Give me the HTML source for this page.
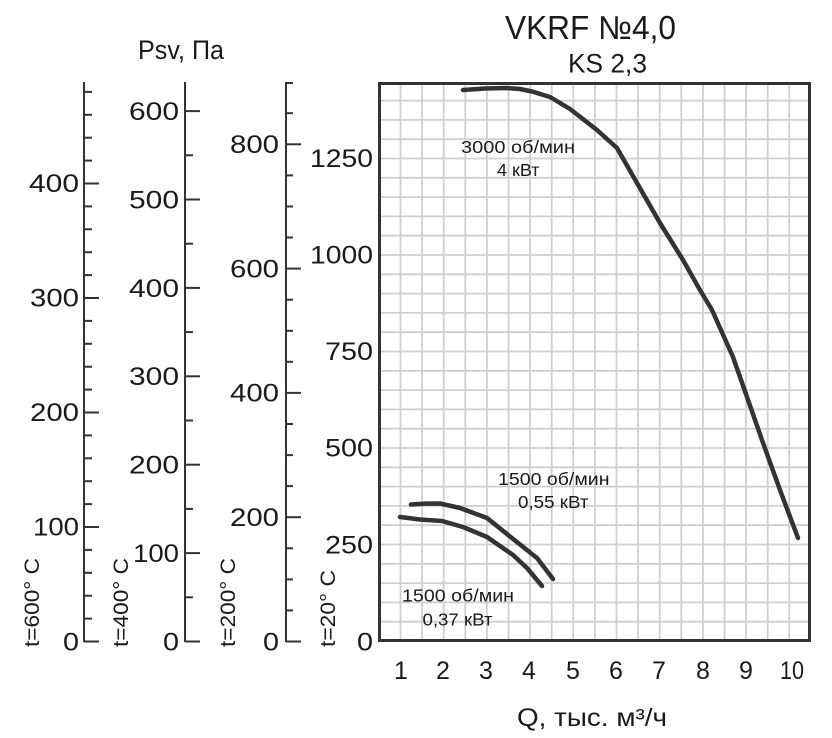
<!DOCTYPE html>
<html><head><meta charset="utf-8"><style>
html,body{margin:0;padding:0;background:#fff;}
svg{display:block;}
text{font-family:"Liberation Sans","DejaVu Sans",sans-serif;fill:#1a1a1a;}
</style></head><body>
<svg width="832" height="738" viewBox="0 0 832 738" xmlns="http://www.w3.org/2000/svg">
<!-- grid -->
<g stroke="#cfcfcf" stroke-width="1.8">
<line x1="400.5" y1="82" x2="400.5" y2="641"/><line x1="422.1" y1="82" x2="422.1" y2="641"/>
<line x1="443.7" y1="82" x2="443.7" y2="641"/><line x1="465.3" y1="82" x2="465.3" y2="641"/>
<line x1="486.9" y1="82" x2="486.9" y2="641"/><line x1="508.5" y1="82" x2="508.5" y2="641"/>
<line x1="530.1" y1="82" x2="530.1" y2="641"/><line x1="551.7" y1="82" x2="551.7" y2="641"/>
<line x1="573.3" y1="82" x2="573.3" y2="641"/><line x1="594.9" y1="82" x2="594.9" y2="641"/>
<line x1="616.5" y1="82" x2="616.5" y2="641"/><line x1="638.1" y1="82" x2="638.1" y2="641"/>
<line x1="659.7" y1="82" x2="659.7" y2="641"/><line x1="681.3" y1="82" x2="681.3" y2="641"/>
<line x1="702.9" y1="82" x2="702.9" y2="641"/><line x1="724.5" y1="82" x2="724.5" y2="641"/>
<line x1="746.1" y1="82" x2="746.1" y2="641"/><line x1="767.7" y1="82" x2="767.7" y2="641"/>
<line x1="789.3" y1="82" x2="789.3" y2="641"/>
</g>
<g stroke="#cfcfcf" stroke-width="1.8" id="hg"></g>
<g stroke="#cfcfcf" stroke-width="1.8">
<line x1="378" y1="621.7" x2="810" y2="621.7"/><line x1="378" y1="602.4" x2="810" y2="602.4"/>
<line x1="378" y1="583.1" x2="810" y2="583.1"/><line x1="378" y1="563.8" x2="810" y2="563.8"/>
<line x1="378" y1="544.5" x2="810" y2="544.5"/><line x1="378" y1="525.2" x2="810" y2="525.2"/>
<line x1="378" y1="505.9" x2="810" y2="505.9"/><line x1="378" y1="486.6" x2="810" y2="486.6"/>
<line x1="378" y1="467.3" x2="810" y2="467.3"/><line x1="378" y1="448" x2="810" y2="448"/>
<line x1="378" y1="428.7" x2="810" y2="428.7"/><line x1="378" y1="409.4" x2="810" y2="409.4"/>
<line x1="378" y1="390.1" x2="810" y2="390.1"/><line x1="378" y1="370.8" x2="810" y2="370.8"/>
<line x1="378" y1="351.5" x2="810" y2="351.5"/><line x1="378" y1="332.2" x2="810" y2="332.2"/>
<line x1="378" y1="312.9" x2="810" y2="312.9"/><line x1="378" y1="293.6" x2="810" y2="293.6"/>
<line x1="378" y1="274.3" x2="810" y2="274.3"/><line x1="378" y1="255" x2="810" y2="255"/>
<line x1="378" y1="235.7" x2="810" y2="235.7"/><line x1="378" y1="216.4" x2="810" y2="216.4"/>
<line x1="378" y1="197.1" x2="810" y2="197.1"/><line x1="378" y1="177.8" x2="810" y2="177.8"/>
<line x1="378" y1="158.5" x2="810" y2="158.5"/><line x1="378" y1="139.2" x2="810" y2="139.2"/>
<line x1="378" y1="119.9" x2="810" y2="119.9"/><line x1="378" y1="100.6" x2="810" y2="100.6"/>
</g>
<!-- box -->
<rect x="379.5" y="83.5" width="430" height="557" fill="none" stroke="#333" stroke-width="3"/>

<!-- axis 1 (t=600) -->
<g stroke="#333" stroke-width="2" fill="none">
<line x1="84" y1="82" x2="84" y2="642"/>
<line x1="84" y1="641.5" x2="99" y2="641.5"/>
<line x1="84" y1="618.6" x2="92" y2="618.6"/><line x1="84" y1="595.7" x2="92" y2="595.7"/>
<line x1="84" y1="572.8" x2="92" y2="572.8"/><line x1="84" y1="549.9" x2="92" y2="549.9"/>
<line x1="84" y1="527" x2="99" y2="527"/>
<line x1="84" y1="504.1" x2="92" y2="504.1"/><line x1="84" y1="481.2" x2="92" y2="481.2"/>
<line x1="84" y1="458.3" x2="92" y2="458.3"/><line x1="84" y1="435.4" x2="92" y2="435.4"/>
<line x1="84" y1="412.5" x2="99" y2="412.5"/>
<line x1="84" y1="389.6" x2="92" y2="389.6"/><line x1="84" y1="366.7" x2="92" y2="366.7"/>
<line x1="84" y1="343.8" x2="92" y2="343.8"/><line x1="84" y1="320.9" x2="92" y2="320.9"/>
<line x1="84" y1="298" x2="99" y2="298"/>
<line x1="84" y1="275.1" x2="92" y2="275.1"/><line x1="84" y1="252.2" x2="92" y2="252.2"/>
<line x1="84" y1="229.3" x2="92" y2="229.3"/><line x1="84" y1="206.4" x2="92" y2="206.4"/>
<line x1="84" y1="183.5" x2="99" y2="183.5"/>
<line x1="84" y1="160.6" x2="92" y2="160.6"/><line x1="84" y1="137.7" x2="92" y2="137.7"/>
<line x1="84" y1="114.8" x2="92" y2="114.8"/><line x1="84" y1="91.9" x2="92" y2="91.9"/>
</g>
<!-- axis 2 (t=400) -->
<g stroke="#333" stroke-width="2" fill="none">
<line x1="185" y1="82" x2="185" y2="642"/>
<line x1="185" y1="641.5" x2="200" y2="641.5"/>
<line x1="185" y1="597.3" x2="193" y2="597.3"/>
<line x1="185" y1="553.1" x2="200" y2="553.1"/>
<line x1="185" y1="508.9" x2="193" y2="508.9"/>
<line x1="185" y1="464.7" x2="200" y2="464.7"/>
<line x1="185" y1="420.5" x2="193" y2="420.5"/>
<line x1="185" y1="376.3" x2="200" y2="376.3"/>
<line x1="185" y1="332.1" x2="193" y2="332.1"/>
<line x1="185" y1="287.9" x2="200" y2="287.9"/>
<line x1="185" y1="243.7" x2="193" y2="243.7"/>
<line x1="185" y1="199.5" x2="200" y2="199.5"/>
<line x1="185" y1="155.3" x2="193" y2="155.3"/>
<line x1="185" y1="111.1" x2="200" y2="111.1"/>
</g>
<!-- axis 3 (t=200) -->
<g stroke="#333" stroke-width="2" fill="none">
<line x1="286" y1="82" x2="286" y2="642"/>
<line x1="286" y1="641.5" x2="301" y2="641.5"/>
<line x1="286" y1="610.4" x2="293" y2="610.4"/><line x1="286" y1="579.4" x2="293" y2="579.4"/>
<line x1="286" y1="548.3" x2="293" y2="548.3"/>
<line x1="286" y1="517.2" x2="301" y2="517.2"/>
<line x1="286" y1="486.1" x2="293" y2="486.1"/><line x1="286" y1="455.1" x2="293" y2="455.1"/>
<line x1="286" y1="424" x2="293" y2="424"/>
<line x1="286" y1="392.9" x2="301" y2="392.9"/>
<line x1="286" y1="361.8" x2="293" y2="361.8"/><line x1="286" y1="330.8" x2="293" y2="330.8"/>
<line x1="286" y1="299.7" x2="293" y2="299.7"/>
<line x1="286" y1="268.6" x2="301" y2="268.6"/>
<line x1="286" y1="237.5" x2="293" y2="237.5"/><line x1="286" y1="206.5" x2="293" y2="206.5"/>
<line x1="286" y1="175.4" x2="293" y2="175.4"/>
<line x1="286" y1="144.3" x2="301" y2="144.3"/>
<line x1="286" y1="113.2" x2="293" y2="113.2"/>
<line x1="286" y1="83" x2="293" y2="83"/>
</g>

<!-- axis labels -->
<g font-size="25" text-anchor="end">
<text x="79" y="192" textLength="50" lengthAdjust="spacingAndGlyphs">400</text>
<text x="79" y="306.5" textLength="49" lengthAdjust="spacingAndGlyphs">300</text>
<text x="79" y="421" textLength="49" lengthAdjust="spacingAndGlyphs">200</text>
<text x="79" y="535.5" textLength="46" lengthAdjust="spacingAndGlyphs">100</text>
<text x="79" y="650.5" textLength="16" lengthAdjust="spacingAndGlyphs">0</text>

<text x="179" y="120" textLength="50" lengthAdjust="spacingAndGlyphs">600</text>
<text x="179" y="208.5" textLength="50" lengthAdjust="spacingAndGlyphs">500</text>
<text x="179" y="297" textLength="50" lengthAdjust="spacingAndGlyphs">400</text>
<text x="179" y="385" textLength="50" lengthAdjust="spacingAndGlyphs">300</text>
<text x="179" y="473.5" textLength="50" lengthAdjust="spacingAndGlyphs">200</text>
<text x="179" y="562" textLength="46" lengthAdjust="spacingAndGlyphs">100</text>
<text x="179" y="650.5" textLength="16" lengthAdjust="spacingAndGlyphs">0</text>

<text x="279" y="153" textLength="49" lengthAdjust="spacingAndGlyphs">800</text>
<text x="279" y="277.5" textLength="49" lengthAdjust="spacingAndGlyphs">600</text>
<text x="279" y="401.5" textLength="49" lengthAdjust="spacingAndGlyphs">400</text>
<text x="279" y="526" textLength="49" lengthAdjust="spacingAndGlyphs">200</text>
<text x="279" y="650.5" textLength="16" lengthAdjust="spacingAndGlyphs">0</text>

<text x="373" y="167" textLength="63" lengthAdjust="spacingAndGlyphs">1250</text>
<text x="373" y="263.5" textLength="63" lengthAdjust="spacingAndGlyphs">1000</text>
<text x="373" y="360" textLength="48" lengthAdjust="spacingAndGlyphs">750</text>
<text x="373" y="456.5" textLength="48" lengthAdjust="spacingAndGlyphs">500</text>
<text x="373" y="553.5" textLength="48" lengthAdjust="spacingAndGlyphs">250</text>
<text x="373" y="650.5" textLength="16" lengthAdjust="spacingAndGlyphs">0</text>
</g>

<!-- x labels -->
<g font-size="25" text-anchor="middle">
<text x="401" y="679">1</text>
<text x="443" y="679">2</text>
<text x="486" y="679">3</text>
<text x="529" y="679">4</text>
<text x="573" y="679">5</text>
<text x="616" y="679">6</text>
<text x="659" y="679">7</text>
<text x="703" y="679">8</text>
<text x="746" y="679">9</text>
<text x="792" y="679" textLength="24" lengthAdjust="spacingAndGlyphs">10</text>
</g>
<text x="517" y="726" font-size="25" textLength="150" lengthAdjust="spacingAndGlyphs">Q, тыс. м³/ч</text>

<!-- rotated temp labels -->
<g font-size="21">
<text x="39" y="647" transform="rotate(-90 39 647)" textLength="89" lengthAdjust="spacingAndGlyphs">t=600° C</text>
<text x="128" y="647" transform="rotate(-90 128 647)" textLength="89" lengthAdjust="spacingAndGlyphs">t=400° C</text>
<text x="235" y="647" transform="rotate(-90 235 647)" textLength="89" lengthAdjust="spacingAndGlyphs">t=200° C</text>
<text x="335" y="647" transform="rotate(-90 335 647)" textLength="77" lengthAdjust="spacingAndGlyphs">t=20° C</text>
</g>

<!-- titles -->
<text x="138" y="59" font-size="27" textLength="86" lengthAdjust="spacingAndGlyphs">Psv, Па</text>
<text x="505" y="39" font-size="33" textLength="171" lengthAdjust="spacingAndGlyphs">VKRF №4,0</text>
<text x="568" y="72.5" font-size="27" textLength="79" lengthAdjust="spacingAndGlyphs">KS 2,3</text>

<!-- curves -->
<g fill="none" stroke="#333" stroke-width="4.5" stroke-linecap="round" stroke-linejoin="round">
<polyline points="463,90 485,88.5 506,88 520,89 532,91.5 550,97 570,109 597,130 617,148 637,183 660,223 683,260 700,290 712,310 733,357 762,440 780,490 798,538"/>
<polyline points="411,504.5 425,503.6 440,503.5 460,508 487,518 510,536.5 537,558 553,579"/>
<polyline points="400,517 420,519.5 442,521 463,527 487,537 513,555 527,568 542,586"/>
</g>

<!-- annotations -->
<g font-size="17.5">
<text x="461" y="153" textLength="114" lengthAdjust="spacingAndGlyphs">3000 об/мин</text>
<text x="497" y="176" textLength="42.5" lengthAdjust="spacingAndGlyphs">4 кВт</text>
<text x="498" y="485" textLength="111.5" lengthAdjust="spacingAndGlyphs">1500 об/мин</text>
<text x="518" y="508" textLength="70.5" lengthAdjust="spacingAndGlyphs">0,55 кВт</text>
<text x="402" y="601.5" textLength="112" lengthAdjust="spacingAndGlyphs">1500 об/мин</text>
<text x="422.5" y="625.5" textLength="70" lengthAdjust="spacingAndGlyphs">0,37 кВт</text>
</g>
</svg>
</body></html>
